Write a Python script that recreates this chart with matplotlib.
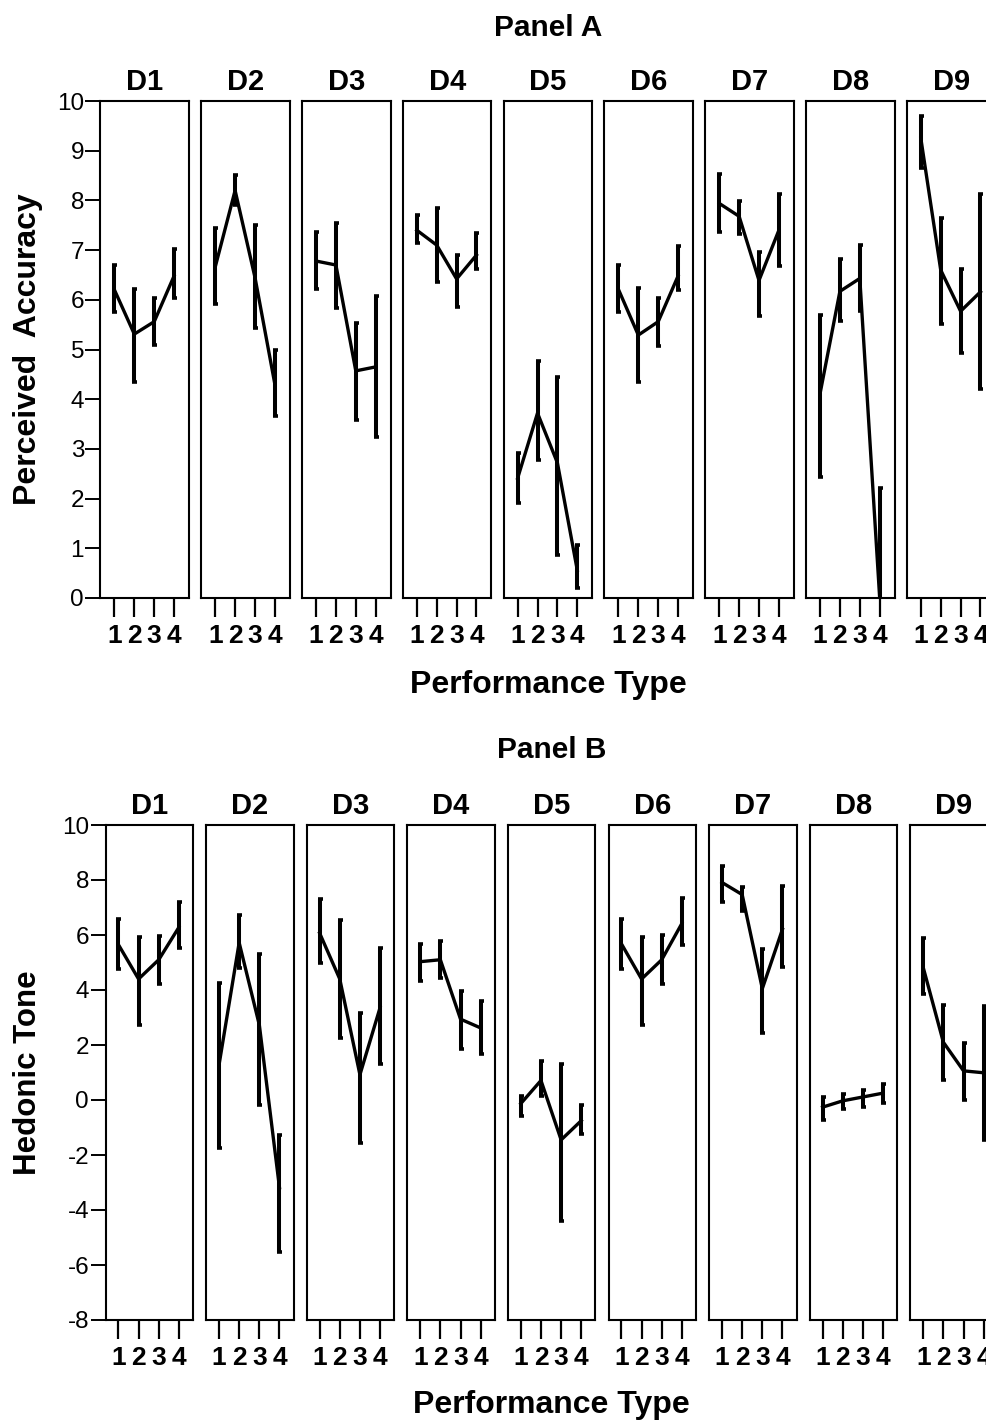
import numpy as np
import matplotlib
matplotlib.use("Agg")
import matplotlib.pyplot as plt

plt.rcParams['font.family'] = ['Liberation Sans', 'DejaVu Sans']

# data: means and error bar ends, 4 performance types x 9 decks
decks = ['D1', 'D2', 'D3', 'D4', 'D5', 'D6', 'D7', 'D8', 'D9']
perf_types = [1, 2, 3, 4]

acc_mean = [[6.20, 5.31, 5.56, 6.48],
            [6.66, 8.20, 6.45, 4.30],
            [6.78, 6.70, 4.57, 4.65],
            [7.40, 7.10, 6.42, 6.90],
            [2.41, 3.72, 2.72, 0.56],
            [6.21, 5.29, 5.56, 6.48],
            [7.94, 7.68, 6.39, 7.40],
            [4.11, 6.17, 6.43, 0.00],
            [9.25, 6.60, 5.77, 6.16]]
acc_low = [[5.75, 4.34, 5.09, 6.04],
           [5.91, 7.90, 5.44, 3.66],
           [6.22, 5.83, 3.59, 3.24],
           [7.15, 6.35, 5.85, 6.61],
           [1.91, 2.77, 0.87, 0.21],
           [5.75, 4.34, 5.08, 6.20],
           [7.36, 7.33, 5.67, 6.68],
           [2.43, 5.58, 5.77, -2.20],
           [8.66, 5.52, 4.92, 4.20]]
acc_high = [[6.70, 6.22, 6.03, 7.02],
            [7.45, 8.52, 7.51, 5.00],
            [7.36, 7.55, 5.53, 6.08],
            [7.70, 7.84, 6.91, 7.34],
            [2.91, 4.77, 4.45, 1.06],
            [6.71, 6.23, 6.03, 7.08],
            [8.53, 7.98, 6.97, 8.13],
            [5.70, 6.82, 7.10, 2.22],
            [9.69, 7.64, 6.62, 8.13]]

hed_mean = [[5.65, 4.40, 5.10, 6.28],
            [1.27, 5.72, 2.73, -3.19],
            [6.07, 4.40, 0.92, 3.36],
            [5.03, 5.10, 2.94, 2.62],
            [-0.13, 0.71, -1.45, -0.75],
            [5.68, 4.40, 5.10, 6.42],
            [7.91, 7.47, 4.05, 6.21],
            [-0.26, -0.03, 0.11, 0.25],
            [4.82, 2.10, 1.06, 0.99]]
hed_low = [[4.78, 2.73, 4.22, 5.54],
           [-1.73, 4.80, -0.17, -5.52],
           [4.99, 2.24, -1.56, 1.30],
           [4.33, 4.43, 1.87, 1.66],
           [-0.58, 0.15, -4.40, -1.24],
           [4.78, 2.73, 4.22, 5.63],
           [7.21, 6.88, 2.45, 4.82],
           [-0.72, -0.33, -0.26, -0.10],
           [3.84, 0.71, 0.01, -1.45]]
hed_high = [[6.59, 5.93, 5.96, 7.19],
            [4.26, 6.73, 5.31, -1.28],
            [7.30, 6.53, 3.15, 5.52],
            [5.68, 5.79, 3.98, 3.61],
            [0.15, 1.43, 1.30, -0.17],
            [6.60, 5.93, 5.99, 7.33],
            [8.51, 7.74, 5.49, 7.77],
            [0.11, 0.22, 0.36, 0.57],
            [5.89, 3.45, 2.06, 3.43]]

W, H = 987, 1427
fig = plt.figure(figsize=(W / 100, H / 100), dpi=100)


def px_axes(x, y, w, h):
    return fig.add_axes([x / W, 1 - (y + h) / H, w / W, h / H])


def draw_panel(means, lows, highs, left0, step, bw, top, bot, xlim, ylim, yticks,
               title, ylabel, title_y, xlabel_y, ylabel_size):
    for i, name in enumerate(decks):
        ax = px_axes(left0 + i * step, top, bw, bot - top)
        m = np.array(means[i])
        lo = np.array(lows[i])
        hi = np.array(highs[i])
        ax.plot(perf_types, m, color='k', lw=2.4, solid_joinstyle='miter')
        ax.errorbar(perf_types, m, yerr=[m - lo, hi - m], fmt='none', ecolor='k',
                    elinewidth=2.9, capsize=1.8, capthick=2.6)
        ax.set_xlim(*xlim)
        ax.set_ylim(*ylim)
        ax.set_xticks(perf_types)
        ax.set_xticklabels([str(p) for p in perf_types], fontweight='bold')
        ax.tick_params(axis='x', direction='out', length=13.5, width=1.6,
                       labelsize=19, pad=5)
        for s in ax.spines.values():
            s.set_linewidth(1.5)
        if i == 0:
            ax.set_yticks(yticks)
            ax.set_yticklabels([str(t) for t in yticks])
            ax.tick_params(axis='y', direction='out', length=10.8, width=1.4,
                           labelsize=17.5, pad=1)
        else:
            ax.set_yticks([])
        ax.set_title(name, fontsize=21, fontweight='bold', pad=8)

    cx = (left0 + 8 * step + bw + left0) / 2
    fig.text(cx / W, 1 - title_y / H, title, ha='center', va='center',
             fontsize=21.5, fontweight='bold')
    fig.text(cx / W, 1 - xlabel_y / H, 'Performance Type', ha='center', va='center',
             fontsize=23, fontweight='bold')
    fig.text(28 / W, 1 - (top + bot) / 2 / H, ylabel, ha='center', va='center',
             rotation=90, fontsize=ylabel_size, fontweight='bold')


draw_panel(acc_mean, acc_low, acc_high, 100.5, 100.8, 88.5, 101, 598,
           (0.3, 4.75), (0, 10), list(range(0, 11)),
           'Panel A', 'Perceived  Accuracy', 28, 685, 23)
draw_panel(hed_mean, hed_low, hed_high, 105.5, 100.6, 87.5, 825, 1320,
           (0.36, 4.70), (-8, 10), list(range(-8, 11, 2)),
           'Panel B', 'Hedonic Tone', 750, 1405, 22.5)

fig.savefig('out.png', dpi=100)
